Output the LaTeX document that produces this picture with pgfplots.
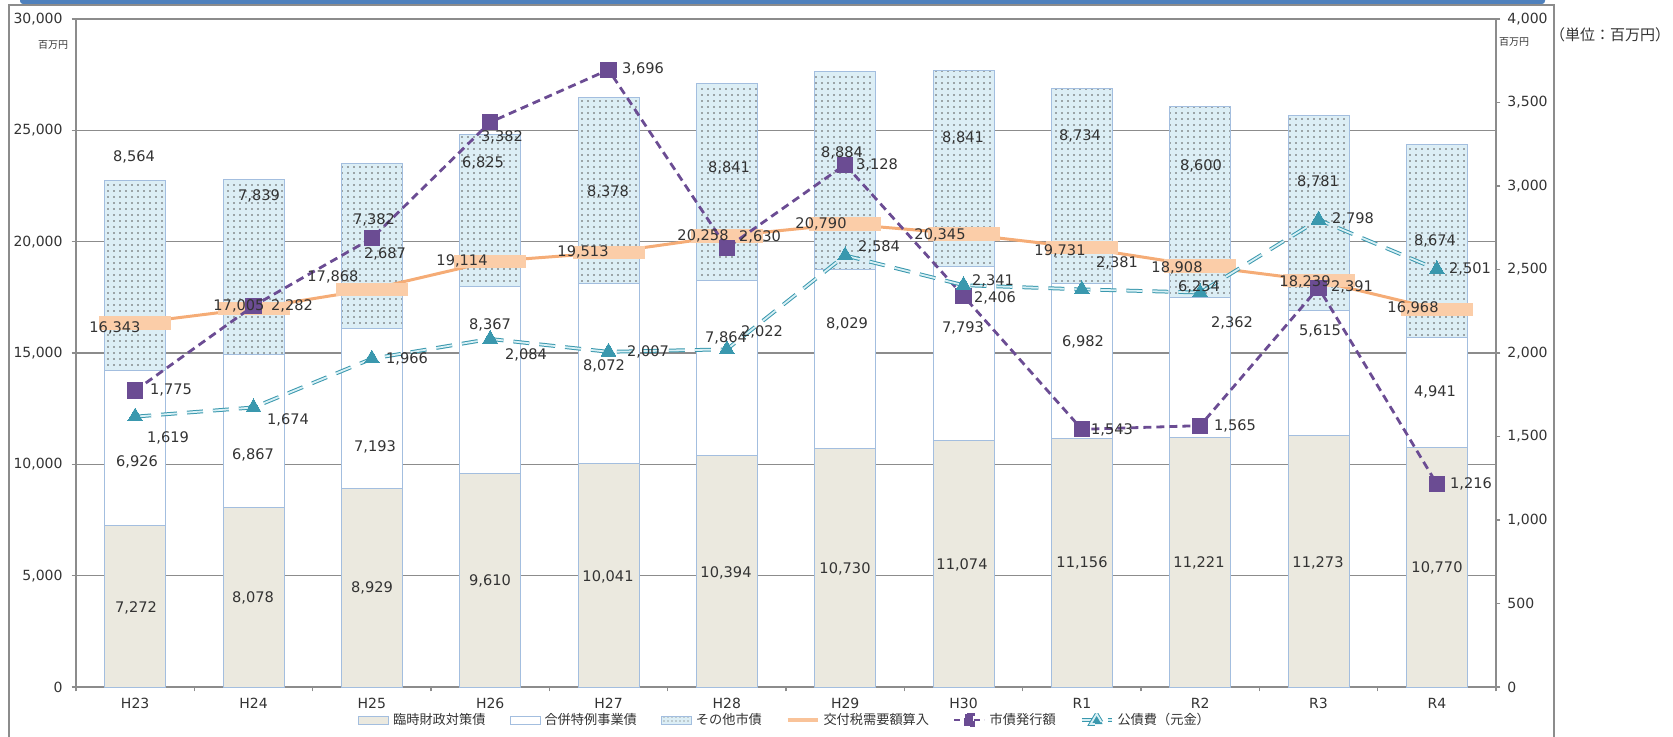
\documentclass[border=0pt]{standalone}
\usepackage{pgfplots}
\pgfplotsset{compat=1.18}
\usepackage{fontspec}
\setmainfont{DejaVu Sans}
\newfontfamily\jp{Noto Sans CJK JP}
\usetikzlibrary{patterns.meta}
\definecolor{barone}{HTML}{EBE9DF}
\definecolor{baredge}{HTML}{A3BEDF}
\definecolor{barthree}{HTML}{DCEEF5}
\definecolor{oline}{HTML}{F5AC76}
\definecolor{omark}{HTML}{FBCDA8}
\definecolor{purp}{HTML}{6B4C93}
\definecolor{teal2}{HTML}{3A98AE}
\definecolor{tealin}{HTML}{D8F0F5}
\definecolor{axgray}{HTML}{8C8C8C}
\definecolor{txt}{HTML}{333333}
\definecolor{hdr}{HTML}{4F81BD}
\pgfdeclareplotmark{wbar}{\pgfpathrectangle{\pgfpoint{-18pt}{-3.3pt}}{\pgfpoint{36pt}{6.6pt}}\pgfusepathqfill}
\pgfplotsset{
  common/.style={at={(38pt,-343.5pt)}, anchor=south west, scale only axis,
    width=710pt, height=334pt, xmin=-0.5, xmax=11.5, clip=false},
}
\begin{document}
\begin{tikzpicture}
\useasboundingbox (0,0) rectangle (836.5pt,-368.5pt);
\begin{scope}[x=0.5pt,y=-0.5pt]
  \fill[hdr, rounded corners=1.5pt] (20,-6) rectangle (1545,4);
  \draw[axgray, line width=0.75pt] (9,737) -- (9,5) -- (1554,5) -- (1554,737);
\end{scope}

% ---------- stacked bars (left axis) ----------
\begin{axis}[common,
  ymin=0, ymax=30000,
  ybar stacked, bar width=30.5pt,
  axis line style={axgray, line width=0.75pt},
  ytick={0,5000,...,30000}, ytick pos=left,
  ymajorgrids, grid style={axgray, line width=0.6pt},
  xtick={-0.5,0.5,...,11.5}, xticklabels={}, xtick pos=bottom,
  extra x ticks={0,1,2,3,4,5,6,7,8,9,10,11},
  extra x tick labels={H23,H24,H25,H26,H27,H28,H29,H30,R1,R2,R3,R4},
  extra x tick style={major tick length=0pt, grid=none, xticklabel style={yshift=-2pt}},
  tick align=outside, major tick length=2.2pt,
  tick style={axgray, line width=0.6pt},
  scaled y ticks=false,
  /pgf/number format/1000 sep={,}, /pgf/number format/assume math mode=true,
  ticklabel style={font=\fontsize{7}{8}\selectfont, text=txt},
  yticklabel style={xshift=-1pt},
]
\addplot[fill=barone, draw=baredge, line width=0.5pt] coordinates
 {(0,7272) (1,8078) (2,8929) (3,9610) (4,10041) (5,10394) (6,10730) (7,11074) (8,11156) (9,11221) (10,11273) (11,10770)};
\addplot[fill=white, draw=baredge, line width=0.5pt] coordinates
 {(0,6926) (1,6867) (2,7193) (3,8367) (4,8072) (5,7864) (6,8029) (7,7793) (8,6982) (9,6254) (10,5615) (11,4941)};
\addplot[fill=barthree, draw=baredge, line width=0.5pt,
  postaction={pattern={Dots[distance=3pt,radius=0.4pt]}, pattern color=gray!70!black}] coordinates
 {(0,8564) (1,7839) (2,7382) (3,6825) (4,8378) (5,8841) (6,8884) (7,8841) (8,8734) (9,8600) (10,8781) (11,8674)};
\end{axis}

% ---------- orange line (left scale) ----------
\begin{axis}[common, ymin=0, ymax=30000, hide axis]
\addplot[oline, line width=1.5pt, mark=wbar, mark options={fill=omark, draw=none}] coordinates
 {(0,16343) (1,17005) (2,17868) (3,19114) (4,19513) (5,20258) (6,20790) (7,20345) (8,19731) (9,18908) (10,18239) (11,16968)};
\end{axis}

% ---------- right axis lines ----------
\begin{axis}[common,
  ymin=0, ymax=4000,
  axis x line=none, axis y line*=right,
  axis line style={axgray, line width=0.75pt},
  ytick={0,500,...,4000},
  tick align=outside, major tick length=2.2pt,
  tick style={axgray, line width=0.6pt},
  scaled y ticks=false,
  /pgf/number format/1000 sep={,}, /pgf/number format/assume math mode=true,
  ticklabel style={font=\fontsize{7}{8}\selectfont, text=txt},
  legend style={at={(0.5,-0.0494)}, anchor=center, draw=none, fill=none,
    legend columns=6, font=\jp\fontsize{6.6}{7}\selectfont, text=txt,
    /tikz/every even column/.append style={column sep=10pt}},
]
\addlegendimage{legend image code/.code={\draw[fill=barone,draw=baredge,line width=0.5pt] (0pt,-2pt) rectangle (15pt,2pt);}}
\addlegendentry{臨時財政対策債}
\addlegendimage{legend image code/.code={\draw[fill=white,draw=baredge,line width=0.5pt] (0pt,-2pt) rectangle (15pt,2pt);}}
\addlegendentry{合併特例事業債}
\addlegendimage{legend image code/.code={\draw[fill=barthree,draw=baredge,line width=0.5pt,postaction={pattern={Dots[distance=2pt,radius=0.3pt]}, pattern color=gray!70!black}] (0pt,-2pt) rectangle (15pt,2pt);}}
\addlegendentry{その他市債}
\addlegendimage{legend image code/.code={\draw[omark!70!oline,line width=1.8pt] (0pt,0pt) -- (15pt,0pt);}}
\addlegendentry{交付税需要額算入}
\addplot[purp, line width=1.4pt, dash pattern=on 4pt off 2.5pt, mark=square*, mark size=3.8pt,
  mark options={solid, fill=purp, draw=purp, line width=0pt},
  legend image code/.code={\draw[purp,line width=1.3pt,dash pattern=on 3pt off 2pt] (0pt,0pt) -- (15pt,0pt); \fill[purp] (5.5pt,-2.8pt) rectangle (9.5pt,2.8pt);}] coordinates
 {(0,1775) (1,2282) (2,2687) (3,3382) (4,3696) (5,2630) (6,3128) (7,2341) (8,1543) (9,1565) (10,2391) (11,1216)};
\addlegendentry{市債発行額}
\addplot[draw=teal2, line width=0.5pt, double=tealin, double distance=0.9pt, dash pattern=on 8pt off 5pt,
  mark=triangle*, mark size=4.3pt, mark options={solid, fill=teal2, draw=teal2, line width=0pt},
  legend image code/.code={\draw[draw=teal2,line width=0.5pt,double=tealin,double distance=0.9pt] (0pt,0pt) -- (15pt,0pt); \fill[teal2] (7.5pt,3pt) -- (4.5pt,-2pt) -- (10.5pt,-2pt) -- cycle;}] coordinates
 {(0,1619) (1,1674) (2,1966) (3,2084) (4,2007) (5,2022) (6,2584) (7,2406) (8,2381) (9,2362) (10,2798) (11,2501)};
\addlegendentry{公債費（元金）}
\end{axis}

% ---------- data labels ----------
\begin{scope}[x=0.5pt,y=-0.5pt, every node/.style={font=\fontsize{7.3}{8}\selectfont, text=txt, inner sep=0pt}]
% その他市債
\node at (134,157) {8,564}; \node at (259,196) {7,839}; \node at (374,220) {7,382};
\node at (483,163) {6,825}; \node at (608,192) {8,378}; \node at (729,168) {8,841};
\node at (842,153) {8,884}; \node at (963,138) {8,841}; \node at (1080,136) {8,734};
\node at (1201,166) {8,600}; \node at (1318,182) {8,781}; \node at (1435,241) {8,674};
% 合併特例事業債
\node at (137,462) {6,926}; \node at (253,455) {6,867}; \node at (375,447) {7,193};
\node at (490,325) {8,367}; \node at (604,366) {8,072}; \node at (726,338) {7,864};
\node at (847,324) {8,029}; \node at (963,328) {7,793}; \node at (1083,342) {6,982};
\node at (1199,287) {6,254}; \node at (1320,331) {5,615}; \node at (1435,392) {4,941};
% 臨時財政対策債
\node at (136,608) {7,272}; \node at (253,598) {8,078}; \node at (372,588) {8,929};
\node at (490,581) {9,610}; \node at (608,577) {10,041}; \node at (726,573) {10,394};
\node at (845,569) {10,730}; \node at (962,565) {11,074}; \node at (1082,563) {11,156};
\node at (1199,563) {11,221}; \node at (1318,563) {11,273}; \node at (1437,568) {10,770};
% 交付税需要額算入
\node at (115,328) {16,343}; \node at (239,306) {17,005}; \node at (333,277) {17,868};
\node at (462,261) {19,114}; \node at (583,252) {19,513}; \node at (703,236) {20,258};
\node at (821,224) {20,790}; \node at (940,235) {20,345}; \node at (1060,251) {19,731};
\node at (1177,268) {18,908}; \node at (1305,282) {18,239}; \node at (1413,308) {16,968};
% 市債発行額
\node at (171,390) {1,775}; \node at (292,306) {2,282}; \node at (385,254) {2,687};
\node at (502,137) {3,382}; \node at (643,69) {3,696}; \node at (760,237) {2,630};
\node at (877,165) {3,128}; \node at (993,281) {2,341}; \node at (1112,430) {1,543};
\node at (1235,426) {1,565}; \node at (1352,287) {2,391}; \node at (1471,484) {1,216};
% 公債費（元金）
\node at (168,438) {1,619}; \node at (288,420) {1,674}; \node at (407,359) {1,966};
\node at (526,355) {2,084}; \node at (648,352) {2,007}; \node at (762,332) {2,022};
\node at (879,247) {2,584}; \node at (995,298) {2,406}; \node at (1117,263) {2,381};
\node at (1232,323) {2,362}; \node at (1353,219) {2,798}; \node at (1470,269) {2,501};
% units
\node[font=\jp\fontsize{5}{6}\selectfont] at (53,45) {百万円};
\node[font=\jp\fontsize{5}{6}\selectfont] at (1514,42) {百万円};
\node[font=\jp\fontsize{7.5}{9}\selectfont] at (1610,35) {（単位：百万円）};
\end{scope}
\end{tikzpicture}
\end{document}
